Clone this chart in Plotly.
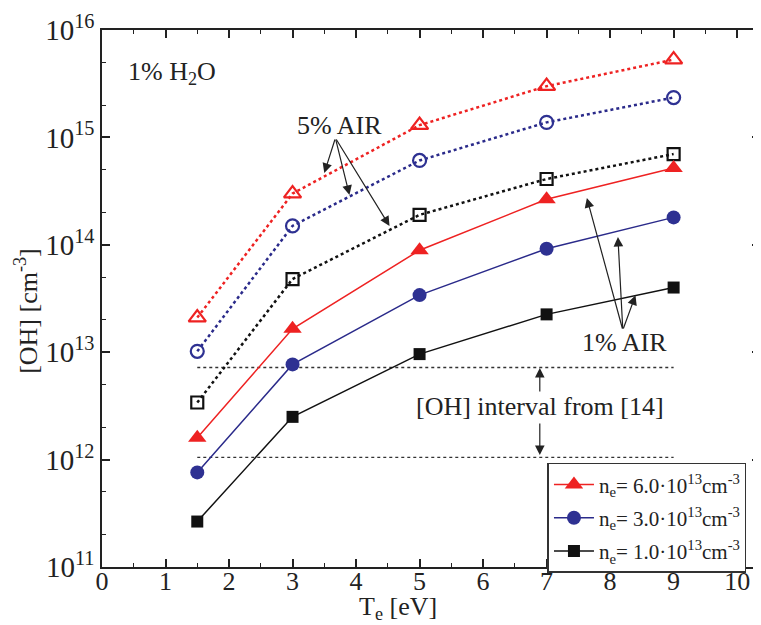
import plotly.graph_objects as go

# Data
Te = [1.5, 3, 5, 7, 9]
air5_ne6 = [2.1e13, 3.0e14, 1.3e15, 3.0e15, 5.3e15]
air5_ne3 = [1.02e13, 1.5e14, 6.1e14, 1.38e15, 2.35e15]
air5_ne1 = [3.4e12, 4.8e13, 1.9e14, 4.1e14, 7.0e14]
air1_ne6 = [1.6e12, 1.65e13, 8.9e13, 2.65e14, 5.2e14]
air1_ne3 = [7.6e11, 7.7e12, 3.4e13, 9.2e13, 1.8e14]
air1_ne1 = [2.65e11, 2.5e12, 9.6e12, 2.25e13, 4.0e13]
interval_x = [1.5, 9]
interval_hi = [7.2e12, 7.2e12]
interval_lo = [1.05e12, 1.05e12]
legend_names = ["n<sub>e</sub>= 6.0·10<sup>13</sup>cm<sup>-3</sup>",
                "n<sub>e</sub>= 3.0·10<sup>13</sup>cm<sup>-3</sup>",
                "n<sub>e</sub>= 1.0·10<sup>13</sup>cm<sup>-3</sup>"]
ytick_vals = [1e11, 1e12, 1e13, 1e14, 1e15, 1e16]
ytick_text = ["10<sup>11</sup>", "10<sup>12</sup>", "10<sup>13</sup>",
              "10<sup>14</sup>", "10<sup>15</sup>", "10<sup>16</sup>"]

RED = "#ee2222"
BLUE = "#2a2a8a"
BLUEM = "#2e3192"
BLACK = "#111111"
FONT = "Liberation Serif"

fig = go.Figure()

# interval lines
for yv in (interval_hi, interval_lo):
    fig.add_trace(go.Scatter(x=interval_x, y=yv, mode="lines", showlegend=False,
                             line=dict(color="#333", width=1.3, dash="dot")))

# 5% AIR dotted, open markers
fig.add_trace(go.Scatter(x=Te, y=air5_ne6, mode="lines+markers", showlegend=False,
                         line=dict(color=RED, width=2.5, dash="dot"),
                         marker=dict(symbol="triangle-up-open", size=15, color=RED, line=dict(width=2.2))))
fig.add_trace(go.Scatter(x=Te, y=air5_ne3, mode="lines+markers", showlegend=False,
                         line=dict(color=BLUE, width=2.5, dash="dot"),
                         marker=dict(symbol="circle-open", size=13, color=BLUEM, line=dict(width=2.2))))
fig.add_trace(go.Scatter(x=Te, y=air5_ne1, mode="lines+markers", showlegend=False,
                         line=dict(color=BLACK, width=2.5, dash="dot"),
                         marker=dict(symbol="square-open", size=12, color=BLACK, line=dict(width=2.2))))

# 1% AIR solid, filled markers
fig.add_trace(go.Scatter(x=Te, y=air1_ne6, mode="lines+markers", name=legend_names[0], legendgroup="a",
                         line=dict(color=RED, width=1.5),
                         marker=dict(symbol="triangle-up", size=16, color=RED)))
fig.add_trace(go.Scatter(x=Te, y=air1_ne3, mode="lines+markers", name=legend_names[1], legendgroup="b",
                         line=dict(color=BLUE, width=1.5),
                         marker=dict(symbol="circle", size=14, color=BLUEM)))
fig.add_trace(go.Scatter(x=Te, y=air1_ne1, mode="lines+markers", name=legend_names[2], legendgroup="c",
                         line=dict(color=BLACK, width=1.5),
                         marker=dict(symbol="square", size=12, color=BLACK)))

def arrow(xt, yt, xs, ys):
    fig.add_annotation(x=xt, y=yt, ax=xs, ay=ys, xref="x", yref="y", axref="x", ayref="y",
                       showarrow=True, arrowhead=2, arrowsize=1.6, arrowwidth=1.2,
                       arrowcolor="#222", text="")

# 5% AIR arrows
arrow(3.50, 14.669, 3.675, 14.994)
arrow(3.896, 14.464, 3.675, 14.994)
arrow(4.527, 14.175, 3.675, 14.994)
# 1% AIR arrows
arrow(7.634, 14.436, 8.20, 13.207)
arrow(8.123, 14.073, 8.20, 13.207)
arrow(8.40, 13.53, 8.20, 13.207)
# interval arrows
arrow(6.893, 12.853, 6.893, 12.62)
arrow(6.893, 12.043, 6.893, 12.35)

def text(x, y, s):
    fig.add_annotation(x=x, y=y, xref="x", yref="y", text=s, showarrow=False,
                       font=dict(family=FONT, size=26, color="#222"))

text(1.10, 15.60, "1% H<sub>2</sub>O")
text(3.74, 15.11, "5% AIR")
text(8.23, 13.09, "1% AIR")
text(6.89, 12.49, "[OH] interval from [14]")

# axis titles
fig.add_annotation(x=0.45, y=-0.076, xref="paper", yref="paper", xanchor="center", yanchor="middle",
                   text="T<sub>e</sub> [eV]", showarrow=False,
                   font=dict(family=FONT, size=26, color="#222"))
fig.add_annotation(x=-0.114, y=0.477, xref="paper", yref="paper", xanchor="center", yanchor="middle",
                   text="[OH] [cm<sup>-3</sup>]", textangle=-90, showarrow=False,
                   font=dict(family=FONT, size=26, color="#222"))

# page body has an 8px margin, so the figure is sized/placed to compensate
fig.update_layout(
    width=753, height=617,
    margin=dict(l=94, r=1, t=22, b=58),
    paper_bgcolor="white", plot_bgcolor="white",
    font=dict(family=FONT, size=26, color="#222"),
    legend=dict(x=0.677, y=0.194, xanchor="left", yanchor="top",
                bordercolor="#333", borderwidth=1.5, bgcolor="white",
                font=dict(family=FONT, size=21, color="#222"),
                traceorder="grouped", tracegroupgap=3, itemwidth=40),
)
fig.update_xaxes(range=[0, 10.36], tickvals=list(range(0, 11)), automargin=False,
                 ticks="inside", ticklen=8, tickwidth=1.5, tickcolor="#222",
                 minor=dict(ticks="inside", ticklen=4, tickwidth=1.2, tickcolor="#222", dtick=0.5, showgrid=False),
                 showline=True, linecolor="#222", linewidth=1.5, mirror="allticks",
                 showgrid=False, zeroline=False, ticklabelstandoff=-10,
                 tickfont=dict(family=FONT, size=26))
fig.update_yaxes(type="log", range=[11, 16], tickvals=ytick_vals, ticktext=ytick_text, automargin=False,
                 ticks="inside", ticklen=8, tickwidth=1.5, tickcolor="#222",
                 minor=dict(ticks="inside", ticklen=4, tickwidth=1.2, tickcolor="#222", showgrid=False),
                 showline=True, linecolor="#222", linewidth=1.5, mirror="allticks",
                 showgrid=False, zeroline=False,
                 tickfont=dict(family=FONT, size=29))

fig.write_html("out.html")
